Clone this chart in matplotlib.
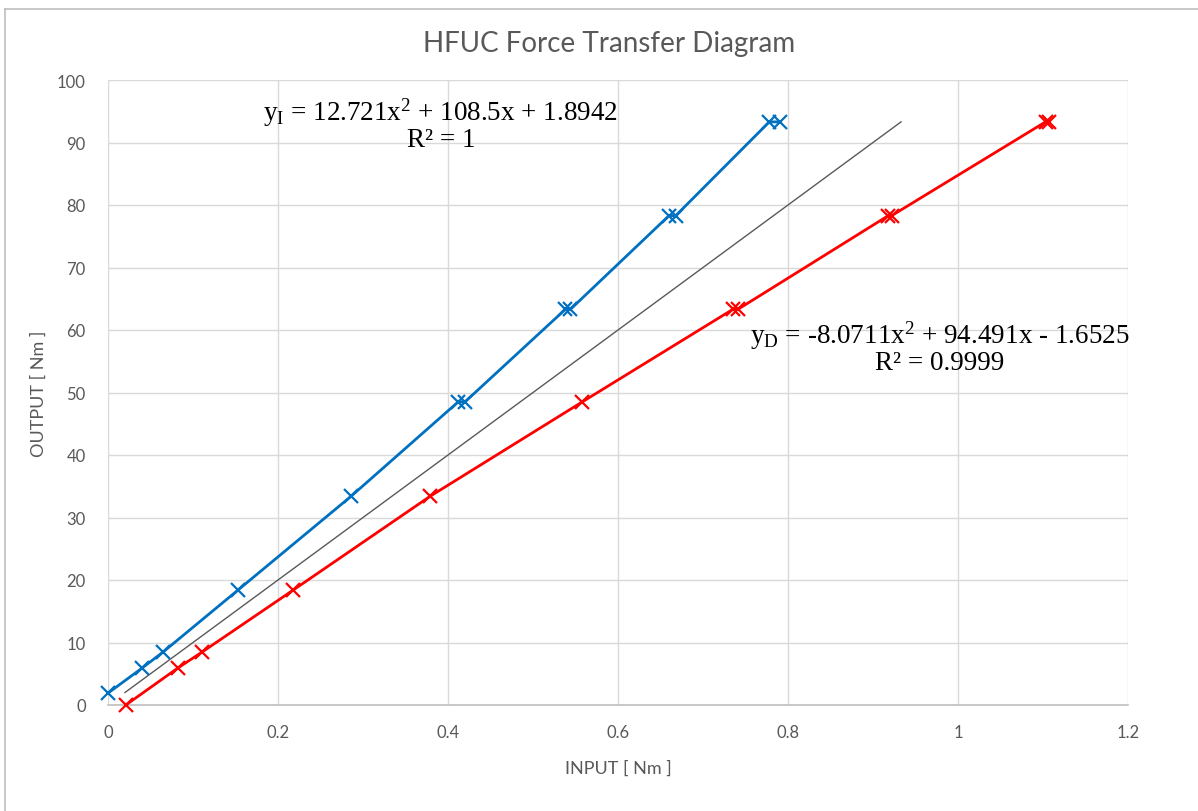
import matplotlib.pyplot as plt
from matplotlib.lines import Line2D

plt.rcParams['font.family'] = ['Lato', 'DejaVu Sans']
plt.rcParams['mathtext.fontset'] = 'custom'
plt.rcParams['mathtext.rm'] = 'Liberation Serif'
plt.rcParams['mathtext.it'] = 'Liberation Serif:italic'

# increasing load (I) - blue
inc_x = [0.0, 0.040, 0.065, 0.153, 0.286, 0.412, 0.420, 0.538, 0.544, 0.660, 0.668, 0.778, 0.790]
inc_y = [1.9, 5.9, 8.5, 18.4, 33.4, 48.5, 48.5, 63.3, 63.3, 78.3, 78.3, 93.3, 93.3]

# decreasing load (D) - red
dec_x = [0.021, 0.082, 0.111, 0.218, 0.379, 0.558, 0.735, 0.741, 0.918, 0.922, 1.103, 1.107]
dec_y = [0.0, 5.9, 8.5, 18.4, 33.4, 48.5, 63.3, 63.3, 78.3, 78.3, 93.3, 93.3]

# ideal ratio line
ideal_x = [0.02, 0.933]
ideal_y = [2.0, 93.3]

eq_inc = "y$_{\\mathrm{I}}$ = 12.721x$^{\\mathrm{2}}$ + 108.5x + 1.8942\nR\u00b2 = 1"
eq_dec = "y$_{\\mathrm{D}}$ = -8.0711x$^{\\mathrm{2}}$ + 94.491x - 1.6525\nR\u00b2 = 0.9999"

W, H = 1198, 812
fig = plt.figure(figsize=(W / 100, H / 100), dpi=100)
ax = fig.add_axes([108 / W, 1 - 706 / H, 1020 / W, 625 / H])

ax.plot(ideal_x, ideal_y, color='#595959', lw=1.0, zorder=3)
ax.plot(inc_x, inc_y, color='#0070C0', lw=2.0, marker='x', ms=10, mew=1.6, zorder=4, clip_on=False)
ax.plot(dec_x, dec_y, color='#FF0000', lw=2.0, marker='x', ms=10, mew=1.6, zorder=4, clip_on=False)

ax.set_xlim(0, 1.2)
ax.set_ylim(0, 100)
ax.set_xticks([0, 0.2, 0.4, 0.6, 0.8, 1.0, 1.2])
ax.set_xticklabels(['0', '0.2', '0.4', '0.6', '0.8', '1', '1.2'])
ax.set_yticks(range(0, 101, 10))
ax.grid(True, color='#D9D9D9', lw=1.0)
ax.set_axisbelow(True)
for s in ['top', 'right', 'left']:
    ax.spines[s].set_visible(False)
ax.spines['bottom'].set_color('#BFBFBF')
ax.spines['bottom'].set_linewidth(1.2)
ax.tick_params(length=0, colors='#595959', labelsize=12)
ax.tick_params(axis='x', pad=14)
ax.tick_params(axis='y', pad=16)

ax.set_xlabel('INPUT [ Nm ]', color='#595959', fontsize=13, labelpad=14)
ax.set_ylabel('OUTPUT [ Nm ]', color='#595959', fontsize=13)
ax.yaxis.set_label_coords(-61 / 1020, 0.5)
fig.text(609 / W, 1 - 44 / H, 'HFUC Force Transfer Diagram', ha='center', va='center',
         fontsize=20, color='#595959')

fig.text(441 / W, 1 - 125 / H, eq_inc, ha='center', va='center', fontsize=19.5,
         family='Liberation Serif', color='#000000', linespacing=0.95)
fig.text(940 / W, 1 - 348 / H, eq_dec, ha='center', va='center', fontsize=19.5,
         family='Liberation Serif', color='#000000', linespacing=0.95)

# chart frame
fig.add_artist(Line2D([4.5 / W, 4.5 / W], [0, 1 - 10 / H], color='#BFBFBF', lw=1.2))
fig.add_artist(Line2D([4.5 / W, 1], [1 - 10 / H, 1 - 10 / H], color='#BFBFBF', lw=1.2))

fig.savefig('out.png', dpi=100)
